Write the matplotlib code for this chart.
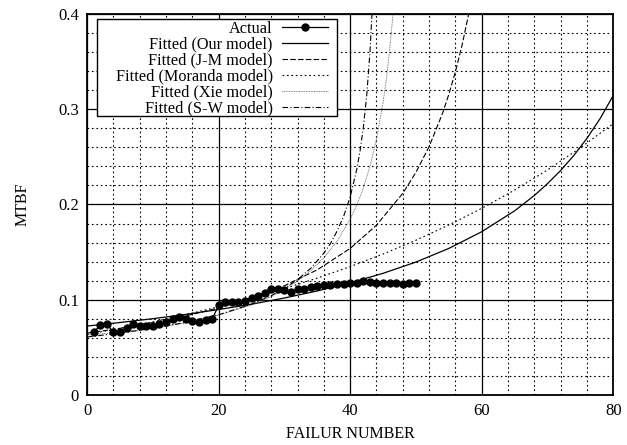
import numpy as np
import matplotlib.pyplot as plt
from matplotlib.patches import Rectangle
from matplotlib.ticker import MultipleLocator, FuncFormatter

plt.rcParams['font.family'] = ['Liberation Serif', 'DejaVu Serif']

# observed MTBF per failure
fail_no = list(range(1, 51))
mtbf = [0.066, 0.0735, 0.0745, 0.066, 0.0665, 0.070, 0.0742, 0.0728, 0.0728, 0.0728,
        0.0745, 0.0763, 0.0795, 0.0825, 0.0800, 0.078, 0.077, 0.0787, 0.0794, 0.0945,
        0.0973, 0.098, 0.0973, 0.099, 0.1015, 0.1043, 0.1074, 0.111, 0.111, 0.110,
        0.1078, 0.111, 0.1113, 0.113, 0.1148, 0.1155, 0.1155, 0.1162, 0.1165, 0.1172,
        0.1179, 0.1193, 0.119, 0.1172, 0.1172, 0.1172, 0.1179, 0.1165, 0.1172, 0.1172]

# fitted curves
our_x = [0, 5, 10, 15, 20, 25, 30, 35, 40, 45, 50, 55, 60, 65, 68, 70, 72, 74, 76, 78, 80]
our_y = [0.0725, 0.0762, 0.0802, 0.0847, 0.0898, 0.0954, 0.1019, 0.1093, 0.1178, 0.1278,
         0.1396, 0.1539, 0.1714, 0.1933, 0.2094, 0.2218, 0.2356, 0.2513, 0.2693, 0.2900, 0.3142]

jm_x = [0, 5, 10, 15, 20, 25, 30, 35, 40, 44, 48, 50, 52, 54, 55, 56, 57, 58, 58.5, 59]
jm_y = [0.0651, 0.0701, 0.0761, 0.0831, 0.0915, 0.1018, 0.1148, 0.1315, 0.1539, 0.1783,
        0.2117, 0.2337, 0.2607, 0.2948, 0.3154, 0.3391, 0.3667, 0.3991, 0.4176, 0.4379]

mor_x = [0, 5, 10, 15, 20, 25, 30, 35, 40, 45, 50, 55, 60, 65, 70, 75, 80]
mor_y = [0.0638, 0.0701, 0.0769, 0.0845, 0.0927, 0.1018, 0.1118, 0.1228, 0.1348, 0.1480,
         0.1625, 0.1785, 0.1959, 0.2151, 0.2362, 0.2594, 0.2848]

xie_x = [0, 5, 10, 15, 20, 25, 28, 30, 32, 34, 36, 38, 40, 41, 42, 43, 44, 45, 45.5, 46, 46.5, 47]
xie_y = [0.063, 0.066, 0.070, 0.076, 0.084, 0.0945, 0.1034, 0.111, 0.1198, 0.1307, 0.144,
         0.1614, 0.1845, 0.1993, 0.2173, 0.2397, 0.2684, 0.307, 0.3316, 0.3615, 0.3987, 0.4466]

sw_x = [0, 5, 10, 15, 20, 25, 28, 30, 32, 34, 36, 37, 38, 39, 40, 41, 41.5, 42, 42.5, 43, 43.3, 43.6]
sw_y = [0.061, 0.0651, 0.0701, 0.0763, 0.0843, 0.0955, 0.1044, 0.112, 0.1212, 0.133, 0.149,
        0.159, 0.172, 0.1875, 0.208, 0.2368, 0.256, 0.2806, 0.313, 0.359, 0.398, 0.452]

fig = plt.figure(figsize=(6.27, 4.45), dpi=100)
ax = fig.add_axes([0.139, 0.112, 0.839, 0.857])

ax.plot(fail_no, mtbf, color='black', lw=0.9, marker='o', ms=5, label='Actual', zorder=5)
ax.plot(our_x, our_y, color='black', lw=0.9, ls='-', label='Fitted (Our model)')
ax.plot(jm_x, jm_y, color='black', lw=0.8, ls=(0, (5, 2)), label='Fitted (J-M model)')
ax.plot(mor_x, mor_y, color='black', lw=0.8, ls=(0, (1.5, 2.5)), label='Fitted (Moranda model)')
ax.plot(xie_x, xie_y, color='#555555', lw=0.6, ls=(0, (1, 1)), label='Fitted (Xie model)')
ax.plot(sw_x, sw_y, color='black', lw=0.8, ls=(0, (5, 2, 1, 2)), label='Fitted (S-W model)')

ax.set_xlim(0, 80)
ax.set_ylim(0, 0.4)
ax.xaxis.set_major_locator(MultipleLocator(20))
ax.xaxis.set_minor_locator(MultipleLocator(4))
ax.yaxis.set_major_locator(MultipleLocator(0.1))
ax.yaxis.set_minor_locator(MultipleLocator(0.02))
ax.yaxis.set_major_formatter(FuncFormatter(lambda v, p: '0' if abs(v) < 1e-9 else '%g' % round(v, 2)))

ax.grid(which='major', color='black', lw=0.9, ls='-')
ax.grid(which='minor', color='black', lw=0.8, ls=(0, (1.5, 2.5)))
ax.set_axisbelow(True)
ax.tick_params(which='both', direction='in', labelsize=12, length=0)
ax.tick_params(axis='x', pad=6)
ax.tick_params(axis='y', pad=6)
for s in ax.spines.values():
    s.set_linewidth(1.3)

ax.set_xlabel('FAILUR NUMBER', fontsize=11.5, labelpad=5)
ax.set_ylabel('MTBF', fontsize=11.5, labelpad=20)

# legend box (wider than its content, as in the original)
box = Rectangle((0.019, 0.732), 0.456, 0.255, transform=ax.transAxes,
                facecolor='white', edgecolor='black', lw=1.0, zorder=4.5)
ax.add_patch(box)
leg = ax.legend(loc='upper right', bbox_to_anchor=(0.464, 0.99), markerfirst=False,
                fontsize=11.7, handlelength=2.85, handletextpad=0.55, labelspacing=0.0,
                borderpad=0.2, borderaxespad=0, frameon=False)
leg.set_zorder(6)
leg._legend_box.align = 'right'
for row in leg.get_texts():
    row.set_horizontalalignment('right')

fig.savefig('out.png', dpi=100)
